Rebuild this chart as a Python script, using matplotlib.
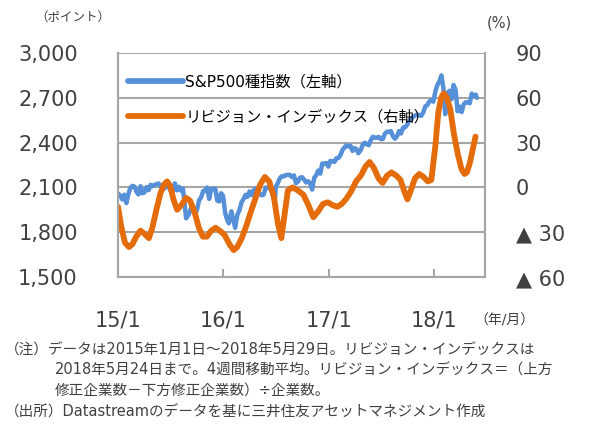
import pandas as pd
import matplotlib
matplotlib.use("Agg")
import matplotlib.pyplot as plt
from matplotlib.ticker import FixedLocator, FuncFormatter

plt.rcParams['font.family'] = ['DejaVu Sans', 'Noto Sans CJK JP']

# S&P500 (left axis, points), roughly weekly
sp_dates = [
    "2015-01-02", "2015-01-09", "2015-01-16", "2015-01-23", "2015-01-30", "2015-02-06",
    "2015-02-13", "2015-02-20", "2015-02-27", "2015-03-06", "2015-03-13", "2015-03-20",
    "2015-03-27", "2015-04-03", "2015-04-10", "2015-04-17", "2015-04-24", "2015-05-01",
    "2015-05-08", "2015-05-15", "2015-05-22", "2015-05-29", "2015-06-05", "2015-06-12",
    "2015-06-19", "2015-06-26", "2015-07-03", "2015-07-10", "2015-07-17", "2015-07-24",
    "2015-07-31", "2015-08-07", "2015-08-14", "2015-08-21", "2015-08-25", "2015-09-04",
    "2015-09-11", "2015-09-18", "2015-09-28", "2015-10-02", "2015-10-09", "2015-10-16",
    "2015-10-23", "2015-10-30", "2015-11-06", "2015-11-13", "2015-11-20", "2015-11-27",
    "2015-12-04", "2015-12-11", "2015-12-18", "2015-12-24", "2015-12-31",
    "2016-01-08", "2016-01-15", "2016-01-20", "2016-01-29", "2016-02-05", "2016-02-11",
    "2016-02-19", "2016-02-26", "2016-03-04", "2016-03-11", "2016-03-18", "2016-03-24",
    "2016-04-01", "2016-04-08", "2016-04-15", "2016-04-22", "2016-04-29", "2016-05-06",
    "2016-05-13", "2016-05-20", "2016-05-27", "2016-06-03", "2016-06-10", "2016-06-17",
    "2016-06-27", "2016-07-01", "2016-07-08", "2016-07-15", "2016-07-22", "2016-07-29",
    "2016-08-05", "2016-08-12", "2016-08-19", "2016-08-26", "2016-09-02", "2016-09-09",
    "2016-09-16", "2016-09-23", "2016-09-30", "2016-10-07", "2016-10-14", "2016-10-21",
    "2016-10-28", "2016-11-04", "2016-11-11", "2016-11-18", "2016-11-25", "2016-12-02",
    "2016-12-09", "2016-12-16", "2016-12-23", "2016-12-30",
    "2017-01-06", "2017-01-13", "2017-01-20", "2017-01-27", "2017-02-03", "2017-02-10",
    "2017-02-17", "2017-02-24", "2017-03-03", "2017-03-10", "2017-03-17", "2017-03-24",
    "2017-03-31", "2017-04-07", "2017-04-13", "2017-04-21", "2017-04-28", "2017-05-05",
    "2017-05-12", "2017-05-19", "2017-05-26", "2017-06-02", "2017-06-09", "2017-06-16",
    "2017-06-23", "2017-06-30", "2017-07-07", "2017-07-14", "2017-07-21", "2017-07-28",
    "2017-08-04", "2017-08-11", "2017-08-18", "2017-08-25", "2017-09-01", "2017-09-08",
    "2017-09-15", "2017-09-22", "2017-09-29", "2017-10-06", "2017-10-13", "2017-10-20",
    "2017-10-27", "2017-11-03", "2017-11-10", "2017-11-17", "2017-11-24", "2017-12-01",
    "2017-12-08", "2017-12-15", "2017-12-22", "2017-12-29",
    "2018-01-05", "2018-01-12", "2018-01-19", "2018-01-26", "2018-02-02", "2018-02-08",
    "2018-02-16", "2018-02-23", "2018-03-02", "2018-03-09", "2018-03-16", "2018-03-23",
    "2018-03-29", "2018-04-06", "2018-04-13", "2018-04-20", "2018-04-27", "2018-05-04",
    "2018-05-11", "2018-05-18", "2018-05-25", "2018-05-29",
]
sp_values = [
    2058, 2045, 2019, 2051, 1995, 2055,
    2097, 2110, 2105, 2071, 2053, 2108,
    2061, 2067, 2102, 2081, 2117, 2108,
    2116, 2123, 2126, 2107, 2092, 2094,
    2110, 2101, 2077, 2077, 2127, 2080,
    2104, 2078, 2092, 1971, 1893, 1921,
    1961, 1958, 1931, 1951, 2014, 2033,
    2075, 2079, 2099, 2023, 2089, 2090,
    2092, 2012, 2006, 2061, 2044,
    1922, 1880, 1859, 1940, 1880, 1829,
    1918, 1948, 2000, 2022, 2050, 2036,
    2073, 2048, 2081, 2092, 2065, 2057,
    2047, 2052, 2099, 2099, 2096, 2071,
    2000, 2103, 2130, 2162, 2175, 2174,
    2183, 2184, 2184, 2169, 2180, 2128,
    2139, 2165, 2168, 2153, 2133, 2141,
    2126, 2085, 2164, 2182, 2213, 2192,
    2260, 2258, 2264, 2239,
    2277, 2275, 2271, 2295, 2297, 2316,
    2351, 2367, 2383, 2373, 2378, 2344,
    2363, 2355, 2329, 2349, 2384, 2399,
    2391, 2382, 2416, 2439, 2432, 2433,
    2438, 2423, 2425, 2459, 2473, 2472,
    2477, 2441, 2426, 2443, 2477, 2461,
    2500, 2502, 2519, 2549, 2553, 2575,
    2581, 2588, 2582, 2579, 2602, 2642,
    2652, 2675, 2683, 2674,
    2743, 2786, 2810, 2850, 2762, 2590,
    2732, 2747, 2691, 2786, 2752, 2610,
    2641, 2604, 2656, 2670, 2670, 2663,
    2728, 2713, 2721, 2700,
]

# Revision index (right axis, %)
ri_dates = [
    "2015-01-01", "2015-01-12", "2015-01-25", "2015-02-08", "2015-02-20", "2015-03-05",
    "2015-03-20", "2015-04-02", "2015-04-18", "2015-04-30", "2015-05-14", "2015-05-28",
    "2015-06-10", "2015-06-20", "2015-07-01", "2015-07-12", "2015-07-25", "2015-08-08",
    "2015-08-25", "2015-09-08", "2015-09-24", "2015-10-08", "2015-10-22", "2015-11-05",
    "2015-11-20", "2015-12-05", "2015-12-20", "2016-01-06", "2016-01-22", "2016-02-06",
    "2016-02-18", "2016-03-05", "2016-03-22", "2016-04-06", "2016-04-22", "2016-05-08",
    "2016-05-24", "2016-06-08", "2016-06-24", "2016-07-08", "2016-07-20", "2016-07-30",
    "2016-08-12", "2016-08-28", "2016-09-15", "2016-10-05", "2016-10-22", "2016-11-08",
    "2016-11-25", "2016-12-12", "2016-12-28", "2017-01-15", "2017-01-30", "2017-02-15",
    "2017-03-01", "2017-03-18", "2017-04-05", "2017-04-22", "2017-05-08", "2017-05-22",
    "2017-06-06", "2017-06-22", "2017-07-06", "2017-07-22", "2017-08-06", "2017-08-22",
    "2017-09-06", "2017-09-20", "2017-09-30", "2017-10-12", "2017-10-26", "2017-11-10",
    "2017-11-25", "2017-12-10", "2017-12-22", "2018-01-05", "2018-01-15", "2018-01-25",
    "2018-02-03", "2018-02-14", "2018-02-26", "2018-03-10", "2018-03-24", "2018-04-06",
    "2018-04-16", "2018-04-24", "2018-05-04", "2018-05-14", "2018-05-24",
]
ri_values = [
    -13, -26, -37, -40, -38, -33,
    -29, -31, -34, -27, -15, -4,
    2, 4, 1, -8, -15, -12,
    -7, -9, -17, -27, -33, -33,
    -29, -27, -29, -32, -38, -42,
    -40, -34, -25, -16, -7, 2,
    7, 4, -6, -24, -34, -20,
    -2, 0, -2, -5, -12, -20,
    -16, -11, -10, -12, -13, -11,
    -8, -3, 4, 8, 14, 17,
    13, 6, 3, 8, 10, 8,
    5, -3, -8, -2, 6, 9,
    7, 4, 5, 28, 50, 60,
    63, 60, 52, 36, 22, 12,
    9, 10, 16, 25, 34,
]

left_ticks = [1500, 1800, 2100, 2400, 2700, 3000]
right_ticks = [-60, -30, 0, 30, 60, 90]
x_ticks = ["2015-01-01", "2016-01-01", "2017-01-01", "2018-01-01"]
x_labels = ["15/1", "16/1", "17/1", "18/1"]

grid_c = "#a6a6a6"
text_c = "#404040"

fig = plt.figure(figsize=(5.99, 4.26), dpi=100)
ax = fig.add_axes([0.197, 0.3498, 0.6127, 0.5258])
ax2 = ax.twinx()

l1, = ax.plot(pd.to_datetime(sp_dates), sp_values, color="#5590d8", lw=3.2,
              solid_joinstyle="round", solid_capstyle="round",
              label="S&P500種指数（左軸）")
l2, = ax2.plot(pd.to_datetime(ri_dates), ri_values, color="#e46c0a", lw=4.2,
               solid_joinstyle="round", solid_capstyle="round",
               label="リビジョン・インデックス（右軸）")

ax.set_ylim(1500, 3000)
ax2.set_ylim(-60, 90)
ax.set_xlim(pd.Timestamp("2015-01-01"), pd.Timestamp("2018-06-26"))
ax.yaxis.set_major_locator(FixedLocator(left_ticks))
ax.yaxis.set_major_formatter(FuncFormatter(lambda v, p: f"{int(v):,}"))
ax2.yaxis.set_major_locator(FixedLocator(right_ticks))
ax2.yaxis.set_major_formatter(FuncFormatter(
    lambda v, p: f"▲ {abs(int(v))}" if v < 0 else f"{int(v)}"))
ax.set_xticks(pd.to_datetime(x_ticks))
ax.set_xticklabels(x_labels)

ax.grid(axis="y", color=grid_c, lw=1.5)
ax.set_axisbelow(True)
for a in (ax, ax2):
    for s in a.spines.values():
        s.set_color(grid_c)
        s.set_linewidth(1.5)
    a.spines["top"].set_visible(False)
ax.tick_params(axis="y", length=0, pad=29, labelsize=15, labelcolor=text_c)
ax2.tick_params(axis="y", length=0, pad=22, labelsize=15, labelcolor=text_c)
ax.tick_params(axis="x", direction="in", length=6, width=1.5, color=grid_c,
               pad=24, labelsize=15, labelcolor=text_c)
ax2.set_zorder(ax.get_zorder() + 1)

leg = ax2.legend(handles=[l1, l2], loc="upper left", bbox_to_anchor=(0.011, 0.93),
                 frameon=False, fontsize=11, handlelength=3.6, handletextpad=0.15,
                 labelspacing=1.3, borderpad=0.4, borderaxespad=0)
for h in leg.get_lines():
    h.set_linewidth(4.2)

fig.text(35 / 599, 1 - 17 / 426, "（ポイント）", fontsize=9, color=text_c, va="center")
fig.text(487 / 599, 1 - 23 / 426, "(%)", fontsize=10.5, color=text_c, va="center")
fig.text(474 / 599, 1 - 321 / 426, "（年/月）", fontsize=10, color=text_c, va="center")

notes = [
    (5, 350, "（注）データは2015年1月1日～2018年5月29日。リビジョン・インデックスは"),
    (55, 370, "2018年5月24日まで。4週間移動平均。リビジョン・インデックス＝（上方"),
    (55, 390, "修正企業数－下方修正企業数）÷企業数。"),
    (5, 412, "（出所）Datastreamのデータを基に三井住友アセットマネジメント作成"),
]
for nx, ny, t in notes:
    fig.text(nx / 599, 1 - ny / 426, t, fontsize=10.5, color=text_c, va="center")

fig.savefig("out.png", dpi=100)
